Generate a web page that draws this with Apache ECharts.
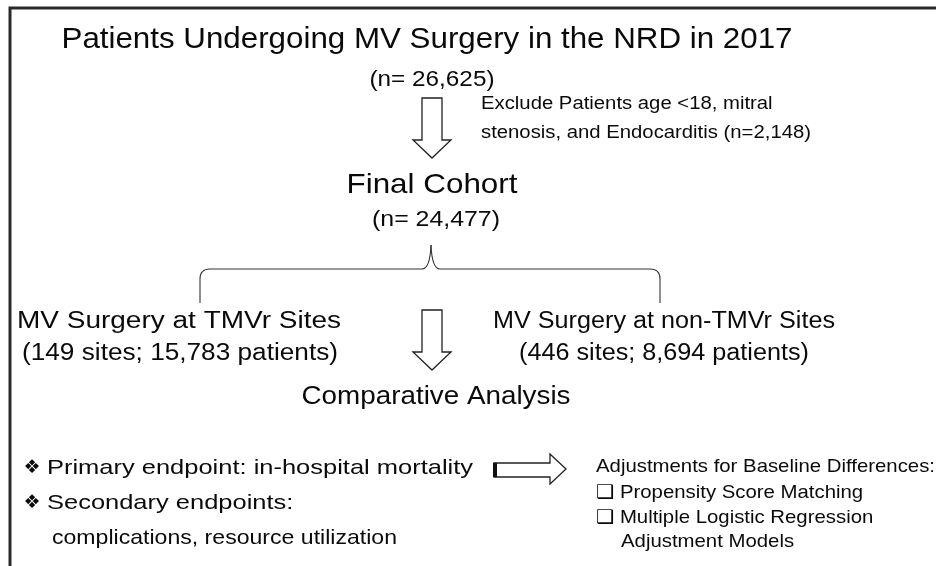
<!DOCTYPE html>
<html>
<head>
<meta charset="utf-8">
<script src="https://cdn.jsdelivr.net/npm/echarts@6/dist/echarts.min.js"></script>
<style>
  html, body { margin: 0; padding: 0; background: #fff; }
  #main { width: 936px; height: 566px; }
</style>
</head>
<body>
<div id="main"></div>
<script>
// study numbers
var studyYear = 2017;
var totalPatients = 26625;
var excludedPatients = 2148;
var finalCohort = 24477;
var groupNames = ['MV Surgery at TMVr Sites', 'MV Surgery at non-TMVr Sites'];
var groupSites = [149, 446];
var groupPatients = [15783, 8694];
var endpointLines = ['Primary endpoint: in-hospital mortality', 'Secondary endpoints:', 'complications, resource utilization'];
var adjustLines = ['Adjustments for Baseline Differences:', '\u2751 Propensity Score Matching', '\u2751 Multiple Logistic Regression', 'Adjustment Models'];

function fmt(n) { return n.toLocaleString('en-US'); }

var FONT = "'Liberation Sans', Arial, 'DejaVu Sans', sans-serif";
var INK = '#0a0a0a';
var ctx = document.createElement('canvas').getContext('2d');

// horizontal stretch so that a string fits the width seen in the figure
function stretch(s, size, width) {
  ctx.font = size + 'px ' + FONT;
  return width / ctx.measureText(s).width;
}

function txt(s, x, y, size, align, sx) {
  return {
    type: 'text',
    x: x, y: y, scaleX: sx || 1,
    style: {
      text: s, x: 0, y: 0,
      font: size + 'px ' + FONT,
      fill: INK,
      textAlign: align || 'center',
      textVerticalAlign: 'middle'
    }
  };
}

function downArrow(cx, top, headY, tip) {
  return {
    type: 'polygon',
    shape: {
      points: [[cx - 10, top], [cx + 10, top], [cx + 10, headY], [cx + 19, headY],
               [cx, tip], [cx - 19, headY], [cx - 10, headY]]
    },
    style: { fill: '#fff', stroke: '#222', lineWidth: 1.3 }
  };
}

var braceStyle = { fill: 'none', stroke: '#333', lineWidth: 1.1 };
function seg(pts) { return { type: 'polyline', shape: { points: pts }, style: braceStyle }; }
function curve(x1, y1, cx, cy, x2, y2) {
  return { type: 'bezierCurve', shape: { x1: x1, y1: y1, cpx1: cx, cpy1: cy, x2: x2, y2: y2 }, style: braceStyle };
}

var titleText = 'Patients Undergoing MV Surgery in the NRD in ' + studyYear;
var n1Text = '(n= ' + fmt(totalPatients) + ')';
var exText = ['Exclude Patients age <18, mitral', 'stenosis, and Endocarditis (n=' + fmt(excludedPatients) + ')'];
var n2Text = '(n= ' + fmt(finalCohort) + ')';
var gLine2 = [0, 1].map(function (i) {
  return '(' + groupSites[i] + ' sites; ' + fmt(groupPatients[i]) + ' patients)';
});

var sxEx = stretch(exText[1], 17.5, 330);
var sxG1 = stretch(groupNames[1], 23, 342);
var sxEnd = stretch(endpointLines[0], 21, 426);
var sxAdj = stretch(adjustLines[0], 19, 339);

var graphics = [
  // frame (runs off the right and bottom edges)
  { type: 'rect', shape: { x: 10, y: 8, width: 960, height: 600 },
    style: { fill: 'none', stroke: '#2a2a2a', lineWidth: 3 } },

  txt(titleText, 427, 40, 30, 'center', stretch(titleText, 30, 731)),
  txt(n1Text, 432, 80, 22, 'center', stretch(n1Text, 22, 125)),
  downArrow(432, 98, 140, 158),
  txt(exText[0], 481, 104, 17.5, 'left', sxEx),
  txt(exText[1], 481, 133, 17.5, 'left', sxEx),

  txt('Final Cohort', 432, 185, 28, 'center', stretch('Final Cohort', 28, 171)),
  txt(n2Text, 436, 220, 22, 'center', stretch(n2Text, 22, 128)),

  // brace
  seg([[200, 303], [200, 279]]),
  curve(200, 279, 200, 269, 210, 269),
  seg([[210, 269], [422, 269]]),
  curve(422, 269, 430, 269, 431, 245),
  curve(431, 245, 432, 269, 440, 269),
  seg([[440, 269], [650, 269]]),
  curve(650, 269, 660, 269, 660, 279),
  seg([[660, 279], [660, 303]]),

  txt(groupNames[0], 179, 322, 23, 'center', stretch(groupNames[0], 23, 324)),
  txt(gLine2[0], 180, 354, 23, 'center', stretch(gLine2[0], 23, 316)),
  txt(groupNames[1], 664, 322, 23, 'center', sxG1),
  txt(gLine2[1], 664, 354, 23, 'center', sxG1),
  downArrow(432, 310, 352, 370),

  txt('Comparative Analysis', 436, 397, 25, 'center', stretch('Comparative Analysis', 25, 269)),

  txt('\u2756', 32, 468, 19, 'center'),
  txt(endpointLines[0], 47, 468, 21, 'left', sxEnd),
  txt('\u2756', 32, 503, 19, 'center'),
  txt(endpointLines[1], 47, 503, 21, 'left', sxEnd),
  txt(endpointLines[2], 52, 538, 21, 'left', stretch(endpointLines[2], 21, 345)),

  // right arrow
  { type: 'polygon',
    shape: { points: [[494, 463], [550, 463], [550, 454], [566, 469], [550, 484], [550, 477], [494, 477]] },
    style: { fill: '#fff', stroke: '#222', lineWidth: 1.3 } },
  { type: 'rect', shape: { x: 493, y: 463, width: 4, height: 14 }, style: { fill: '#111' } },

  txt(adjustLines[0], 596, 467, 19, 'left', sxAdj),
  txt(adjustLines[1], 596, 493, 19, 'left', sxAdj),
  txt(adjustLines[2], 596, 518, 19, 'left', sxAdj),
  txt(adjustLines[3], 621, 542, 19, 'left', sxAdj)
];

var myChart = echarts.init(document.getElementById('main'));
myChart.setOption({
  backgroundColor: '#fff',
  animation: false,
  graphic: { elements: graphics }
});
</script>
</body>
</html>
